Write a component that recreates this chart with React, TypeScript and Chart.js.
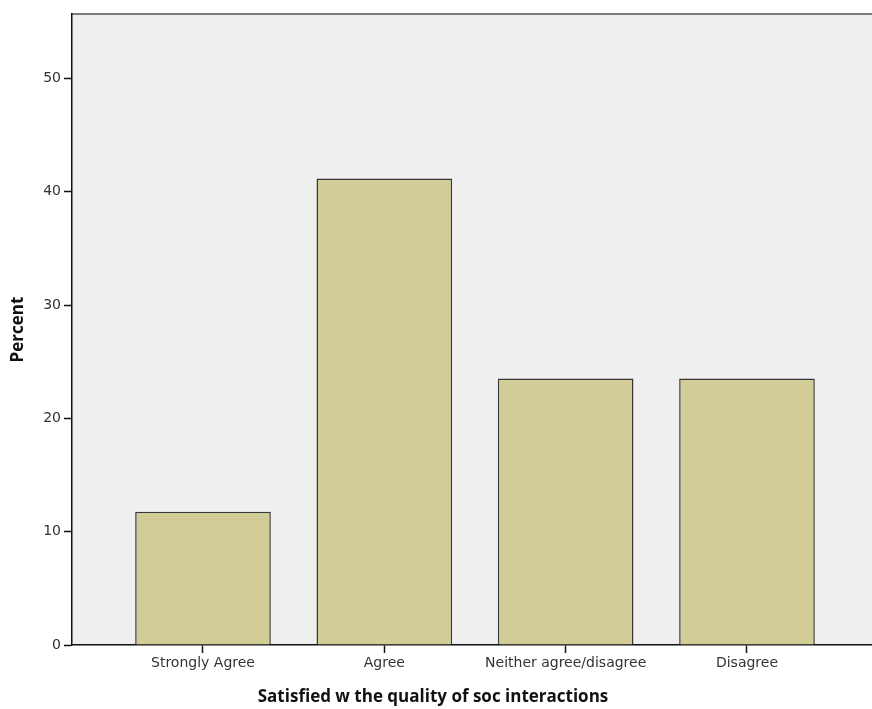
import { useEffect, useRef } from 'react';
import { Chart, registerables } from 'chart.js';

Chart.register(...registerables);

const categories = ['Strongly Agree', 'Agree', 'Neither agree/disagree', 'Disagree'];
const percentValues = [11.76, 41.18, 23.53, 23.53];
const yTickValues = [0, 10, 20, 30, 40, 50];
const xAxisTitle = 'Satisfied w the quality of soc interactions';
const yAxisTitle = 'Percent';

const FONT = '"DejaVu Sans", sans-serif';
const TITLE_FONT = '"Open Sans", "Noto Sans", sans-serif';

const decorPlugin = {
  id: 'decor',
  beforeDraw(chart: any) {
    const { ctx, chartArea } = chart;
    ctx.save();
    ctx.fillStyle = '#efefef';
    ctx.fillRect(chartArea.left, chartArea.top, chartArea.right - chartArea.left, chartArea.bottom - chartArea.top);
    ctx.strokeStyle = '#7a7a7a';
    ctx.lineWidth = 2;
    ctx.beginPath();
    ctx.moveTo(chartArea.left, chartArea.top);
    ctx.lineTo(chartArea.right, chartArea.top);
    ctx.stroke();
    ctx.restore();
  },
  afterDraw(chart: any) {
    const { ctx, chartArea } = chart;
    ctx.save();
    ctx.fillStyle = '#111';
    ctx.font = `bold 17px ${TITLE_FONT}`;
    ctx.textAlign = 'center';
    ctx.textBaseline = 'middle';
    ctx.fillText(xAxisTitle, chartArea.left + 361, 697);
    ctx.translate(18, (chartArea.top + chartArea.bottom) / 2);
    ctx.rotate(-Math.PI / 2);
    ctx.fillText(yAxisTitle, 0, 0);
    ctx.restore();
  },
};

export default function App() {
  const ref = useRef<HTMLCanvasElement | null>(null);
  useEffect(() => {
    if (!ref.current) return;
    const chart = new Chart(ref.current, {
      type: 'bar',
      data: {
        datasets: [
          {
            data: percentValues.map((v, i) => ({ x: i, y: v })),
            backgroundColor: '#d2cd97',
            borderColor: '#383838',
            borderWidth: 1.5,
            categoryPercentage: 1,
            barPercentage: 0.748,
          },
        ],
      },
      plugins: [decorPlugin],
      options: {
        animation: false,
        responsive: true,
        maintainAspectRatio: false,
        layout: { padding: { top: 14, left: 0, right: 0, bottom: 0 } },
        plugins: { legend: { display: false }, tooltip: { enabled: false } },
        scales: {
          x: {
            type: 'linear',
            offset: false,
            min: -0.7224,
            max: 3.6894,
            afterBuildTicks: (scale: any) => {
              scale.ticks = categories.map((_, i) => ({ value: i }));
            },
            afterFit: (scale: any) => {
              scale.height = 64;
            },
            ticks: {
              callback: (v: any) => categories[v] ?? '',
              color: '#333',
              font: { family: FONT, size: 14 },
              padding: 2,
              maxRotation: 0,
              autoSkip: false,
            },
            grid: {
              offset: false,
              drawOnChartArea: false,
              drawTicks: true,
              tickLength: 8,
              tickColor: '#111',
              tickWidth: 1.5,
            },
            border: { color: '#111', width: 1.5 },
          },
          y: {
            min: 0,
            max: 55.7,
            afterBuildTicks: (scale: any) => {
              scale.ticks = yTickValues.map((v) => ({ value: v }));
            },
            afterFit: (scale: any) => {
              scale.width = 72;
            },
            ticks: {
              color: '#333',
              font: { family: FONT, size: 14 },
              padding: 3,
            },
            grid: {
              drawOnChartArea: false,
              drawTicks: true,
              tickLength: 8,
              tickColor: '#111',
              tickWidth: 1.5,
            },
            border: { color: '#111', width: 1.5 },
          },
        },
      },
    });
    return () => chart.destroy();
  }, []);
  return (
    <div style={{ position: 'fixed', left: 0, top: 0, width: 872, height: 709, background: '#fff' }}>
      <canvas ref={ref} />
    </div>
  );
}
